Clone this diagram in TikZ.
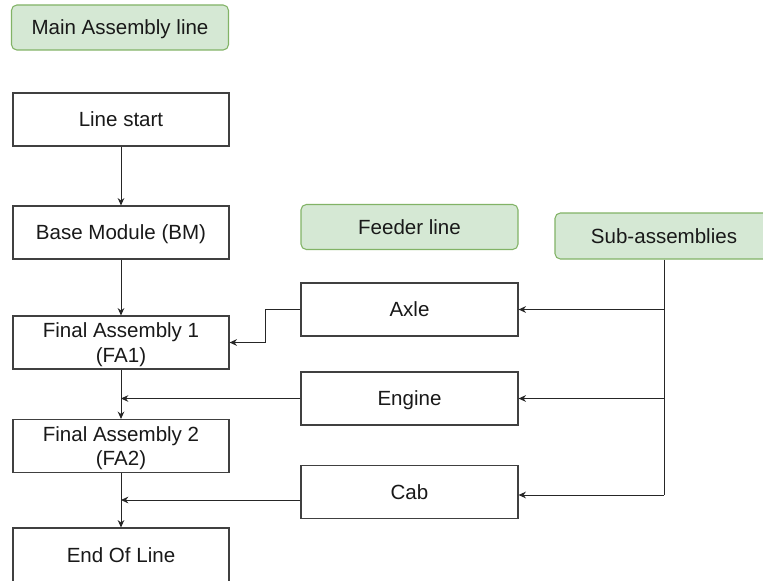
\documentclass[tikz,border=0pt]{standalone}
\usepackage{fontspec}
\setmainfont{Liberation Sans}
\usetikzlibrary{arrows.meta,calc}
\definecolor{gfill}{HTML}{D5E8D4}
\definecolor{gdraw}{HTML}{82B366}
\tikzset{
  txt/.style={font=\fontsize{15.4}{18.6}\selectfont,text=black!90,text depth=0pt},
  box/.style={draw=black!75,line width=0.9pt,fill=white,minimum width=216*0.75pt,minimum height=53*0.75pt,inner sep=0pt,align=center,txt},
  gbox/.style={draw=gdraw,fill=gfill,line width=0.8pt,rounded corners=4pt,minimum width=217*0.75pt,minimum height=45*0.75pt,inner sep=0pt,align=center,txt},
  arr/.style={draw=black!85,line width=0.7pt,-{Stealth[length=5.5pt,width=5pt]}},
  ln/.style={draw=black!85,line width=0.7pt}
}
\begin{document}
\begin{tikzpicture}[x=0.75pt,y=-0.75pt]
\clip (0,0) rectangle (763,581);
\fill[white] (0,0) rectangle (763,581);
\node[gbox] (main) at (120,27.5) {Main Assembly line};
\node[gbox] (feeder) at (409.5,227) {Feeder line};
\node[gbox,minimum height=46*0.75pt,minimum width=218*0.75pt] (sub) at (664,236) {Sub-assemblies};

\node[box] (ls) at (121,119.5) {Line start};
\node[box] (bm) at (121,232.5) {Base Module (BM)};
\node[box] (fa1) at (121,342.5) {Final Assembly 1\\(FA1)};
\node[box] (fa2) at (121,446) {Final Assembly 2\\(FA2)};
\node[box,minimum height=62*0.75pt] (eol) at (121,559) {};
\node[txt] (eoltext) at (121,555) {End Of Line};

\node[box,minimum width=217*0.75pt] (axle) at (409.5,309.5) {Axle};
\node[box,minimum width=217*0.75pt] (engine) at (409.5,398.5) {Engine};
\node[box,minimum width=217*0.75pt] (cab) at (409.5,492) {Cab};

\draw[arr] (ls) -- (bm);
\draw[arr] (bm) -- (fa1);
\draw[arr] (fa1) -- (fa2);
\draw[arr] (fa2) -- (eol);

\draw[arr] (axle.west) -- ++(-35,0) |- (fa1.east);
\draw[arr] (engine.west) -- (engine.west -| fa1.south);
\coordinate (cabw) at ($(cab.west)+(0,8)$);
\draw[arr] (cabw) -- (cabw -| fa2.south);

\coordinate (cabe) at ($(cab.east)+(0,3)$);
\draw[ln] (sub.south) -- (sub.south |- cabe);
\draw[arr] (sub.south |- axle.east) -- (axle.east);
\draw[arr] (sub.south |- engine.east) -- (engine.east);
\draw[arr] (sub.south |- cabe) -- (cabe);
\end{tikzpicture}
\end{document}
